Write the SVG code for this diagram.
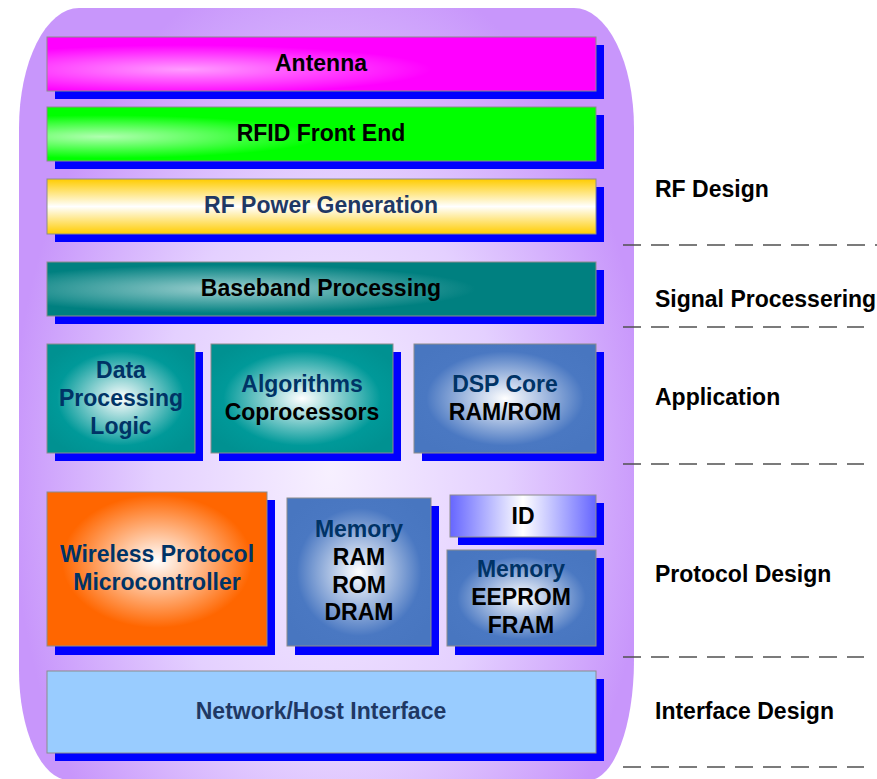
<svg xmlns="http://www.w3.org/2000/svg" width="877" height="779" viewBox="0 0 877 779">
<defs>
<radialGradient id="bgGrad" gradientUnits="userSpaceOnUse" cx="0" cy="0" r="1" gradientTransform="translate(330 470) scale(320 520)">
<stop offset="0" stop-color="#F7F0FF"/>
<stop offset="0.55" stop-color="#E4D0FF"/>
<stop offset="1" stop-color="#C896FB"/>
</radialGradient>
<radialGradient id="gAnt" cx="0.25" cy="0.6" r="0.45">
<stop offset="0" stop-color="#FF9CFF"/>
<stop offset="1" stop-color="#FF00FF"/>
</radialGradient>
<radialGradient id="gRfid" cx="0.1" cy="0.55" r="0.4">
<stop offset="0" stop-color="#B0FFB0"/>
<stop offset="1" stop-color="#00FF00"/>
</radialGradient>
<linearGradient id="gPow" x1="0" y1="0" x2="0" y2="1">
<stop offset="0" stop-color="#FFCC00"/>
<stop offset="0.5" stop-color="#FFFFFF"/>
<stop offset="1" stop-color="#FFCC00"/>
</linearGradient>
<radialGradient id="gBase" cx="0.33" cy="0.5" r="0.45">
<stop offset="0" stop-color="#9ED0D0"/>
<stop offset="1" stop-color="#008080"/>
</radialGradient>
<radialGradient id="gTeal" cx="0.5" cy="0.5" r="0.6">
<stop offset="0" stop-color="#FFFFFF"/>
<stop offset="0.72" stop-color="#009999"/>
<stop offset="1" stop-color="#009191"/>
</radialGradient>
<radialGradient id="gBlue" cx="0.5" cy="0.5" r="0.6">
<stop offset="0" stop-color="#FFFFFF"/>
<stop offset="0.72" stop-color="#4A78C2"/>
<stop offset="1" stop-color="#4876C0"/>
</radialGradient>
<radialGradient id="gOrange" cx="0.5" cy="0.45" r="0.6">
<stop offset="0" stop-color="#FFFFFF"/>
<stop offset="0.72" stop-color="#FF6600"/>
<stop offset="1" stop-color="#FF6600"/>
</radialGradient>
<linearGradient id="gId" x1="0" y1="0" x2="1" y2="0">
<stop offset="0" stop-color="#6666FF"/>
<stop offset="0.5" stop-color="#FFFFFF"/>
<stop offset="1" stop-color="#6666FF"/>
</linearGradient>
</defs>
<style>
.sh{fill:#0000FF}
.bx{stroke:#8C8C8C;stroke-width:1}
text{font-family:"Liberation Sans",Arial,sans-serif;font-weight:bold;font-size:23px}
.c{text-anchor:middle}
.k{fill:#000000}
.n{fill:#003366}
.g{fill:#1F3864}
.dash{stroke:#505050;stroke-width:1.5;stroke-dasharray:18 10;fill:none}
</style>
<rect width="877" height="779" fill="#FFFFFF"/>
<path id="background" d="M19,128 A60,120 0 0 1 79,8 L574,8 A60,120 0 0 1 634,128 L634,660 A45,120 0 0 1 589,780 L69,780 A50,110 0 0 1 19,670 Z" fill="url(#bgGrad)"/>

<g id="antenna">
<rect class="sh" x="55" y="45" width="549" height="54"/>
<rect class="bx" x="47" y="37" width="549" height="54" fill="url(#gAnt)"/>
<text class="c k" x="321" y="71">Antenna</text>
</g>
<g id="rfid-front-end">
<rect class="sh" x="55" y="115" width="549" height="54"/>
<rect class="bx" x="47" y="107" width="549" height="54" fill="url(#gRfid)"/>
<text class="c k" x="321" y="141">RFID Front End</text>
</g>
<g id="rf-power">
<rect class="sh" x="55" y="187" width="549" height="55"/>
<rect class="bx" x="47" y="179" width="549" height="55" fill="url(#gPow)"/>
<text class="c g" x="321" y="213">RF Power Generation</text>
</g>
<g id="baseband">
<rect class="sh" x="55" y="270" width="549" height="54"/>
<rect class="bx" x="47" y="262" width="549" height="54" fill="url(#gBase)"/>
<text class="c k" x="321" y="296">Baseband Processing</text>
</g>
<g id="data-processing">
<rect class="sh" x="55" y="352" width="148" height="109"/>
<rect class="bx" x="47" y="344" width="148" height="109" fill="url(#gTeal)"/>
<text class="c n" x="121" y="378">Data</text>
<text class="c n" x="121" y="406">Processing</text>
<text class="c n" x="121" y="434">Logic</text>
</g>
<g id="algorithms">
<rect class="sh" x="219" y="352" width="182" height="109"/>
<rect class="bx" x="211" y="344" width="182" height="109" fill="url(#gTeal)"/>
<text class="c n" x="302" y="392">Algorithms</text>
<text class="c k" x="302" y="420">Coprocessors</text>
</g>
<g id="dsp-core">
<rect class="sh" x="422" y="352" width="182" height="109"/>
<rect class="bx" x="414" y="344" width="182" height="109" fill="url(#gBlue)"/>
<text class="c n" x="505" y="392">DSP Core</text>
<text class="c k" x="505" y="420">RAM/ROM</text>
</g>
<g id="wireless-protocol">
<rect class="sh" x="55" y="500" width="220" height="155"/>
<rect class="bx" x="47" y="492" width="220" height="154" fill="url(#gOrange)"/>
<text class="c n" x="157" y="562">Wireless Protocol</text>
<text class="c n" x="157" y="590">Microcontroller</text>
</g>
<g id="memory-ram">
<rect class="sh" x="295" y="506" width="144" height="149"/>
<rect class="bx" x="287" y="498" width="144" height="148" fill="url(#gBlue)"/>
<text class="c n" x="359" y="537">Memory</text>
<text class="c k" x="359" y="565">RAM</text>
<text class="c k" x="359" y="593">ROM</text>
<text class="c k" x="359" y="620">DRAM</text>
</g>
<g id="id">
<rect class="sh" x="458" y="503" width="146" height="42"/>
<rect class="bx" x="450" y="495" width="146" height="42" fill="url(#gId)"/>
<text class="c k" x="523" y="524">ID</text>
</g>
<g id="memory-eeprom">
<rect class="sh" x="455" y="558" width="149" height="97"/>
<rect class="bx" x="447" y="550" width="149" height="96" fill="url(#gBlue)"/>
<text class="c n" x="521" y="577">Memory</text>
<text class="c k" x="521" y="605">EEPROM</text>
<text class="c k" x="521" y="633">FRAM</text>
</g>
<g id="network-host">
<rect class="sh" x="55" y="679" width="549" height="82"/>
<rect class="bx" x="47" y="671" width="549" height="82" fill="#99CCFF"/>
<text class="c g" x="321" y="719">Network/Host Interface</text>
</g>

<g id="connectors">
<line class="dash" x1="623" y1="245" x2="877" y2="245"/>
<line class="dash" x1="623" y1="327" x2="864" y2="327"/>
<line class="dash" x1="623" y1="464" x2="864" y2="464"/>
<line class="dash" x1="623" y1="657" x2="864" y2="657"/>
<line class="dash" x1="623" y1="767" x2="864" y2="767"/>
</g>

<g id="layer-labels">
<text class="k" x="655" y="197">RF Design</text>
<text class="k" x="655" y="307">Signal Processering</text>
<text class="k" x="655" y="405">Application</text>
<text class="k" x="655" y="582">Protocol Design</text>
<text class="k" x="655" y="719">Interface Design</text>
</g>
</svg>
